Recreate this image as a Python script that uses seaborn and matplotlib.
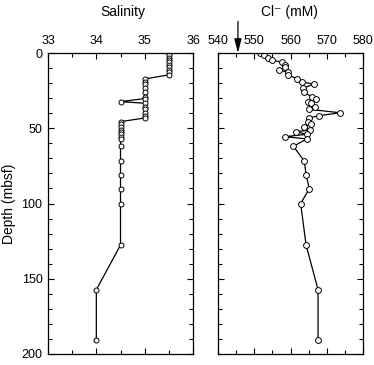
import matplotlib
matplotlib.use("Agg")
import matplotlib.pyplot as plt
from matplotlib.ticker import MultipleLocator
import seaborn as sns
import pandas as pd

depth = [0, 1.5, 3, 4.6, 6.2, 7.7, 9, 11.3, 12.8, 14.5,
         17.3, 19.3, 20.6, 23.5, 26, 29, 30.3, 32.3, 33.4, 35.6,
         37.4, 39.7, 41.7, 43.2, 45.6, 47.4, 49.4, 51.2, 52.3, 54,
         55.6, 57.1, 62, 71.8, 81, 90.2, 100, 127.6, 157.3, 190.7]
salinity = [35.5] * 10 + [35.0] * 7 + [34.5] + [35.0] * 6 + [34.5] * 8 + \
           [34.5] * 6 + [34.0] * 2
chloride = [551.7, 552.7, 553.7, 554.8, 557.7, 558.5, 558.6, 556.9, 559.2, 559.4,
            561.9, 563.3, 566.4, 563.5, 563.6, 565.9, 567.0, 564.8, 565.6, 566.7,
            565.1, 573.7, 567.8, 565.1, 564.7, 565.6, 563.8, 565.4, 561.5, 564.5,
            558.5, 564.5, 560.8, 563.8, 564.3, 565.2, 562.8, 564.3, 567.6, 567.6]
seawater_cl = 545.5

df = pd.DataFrame({"depth": depth, "salinity": salinity, "cl": chloride})

sns.set_theme(style="white")
plt.rcParams["font.family"] = ["Liberation Sans", "DejaVu Sans"]

W, H = 374, 365
fig = plt.figure(figsize=(W / 100, H / 100), dpi=100)
axL = fig.add_axes([48 / W, 1 - 354 / H, (193 - 48) / W, (354 - 53) / H])
axR = fig.add_axes([218 / W, 1 - 354 / H, (363 - 218) / W, (354 - 53) / H])

kw = dict(estimator=None, sort=False, color="black", linewidth=0.9,
          marker="o", markerfacecolor="white", markeredgecolor="black",
          markeredgewidth=0.7)
sns.lineplot(data=df, x="salinity", y="depth", ax=axL, markersize=3.6, **kw)
sns.lineplot(data=df, x="cl", y="depth", ax=axR, markersize=4.2, **kw)

axL.set_xlim(33, 36)
axR.set_xlim(540, 580)
for ax in (axL, axR):
    ax.set_ylim(200, 0)
    ax.set_xlabel("")
    ax.set_ylabel("")
    for s in ax.spines.values():
        s.set_color("black")
        s.set_linewidth(0.9)
    ax.yaxis.set_major_locator(MultipleLocator(50))
    ax.yaxis.set_minor_locator(MultipleLocator(10))
    ax.tick_params(which="both", direction="in", top=True, bottom=True,
                   left=True, right=True, labeltop=True, labelbottom=False,
                   color="black", width=0.8, labelsize=9, pad=4,
                   labelcolor="black")
    ax.tick_params(which="major", length=4)
    ax.tick_params(which="minor", length=3)

axL.xaxis.set_major_locator(MultipleLocator(1))
axL.xaxis.set_minor_locator(MultipleLocator(0.5))
axR.xaxis.set_major_locator(MultipleLocator(10))
axR.xaxis.set_minor_locator(MultipleLocator(5))
axR.tick_params(labelleft=False)

axL.set_ylabel("Depth (mbsf)", fontsize=10, color="black", labelpad=4)

fig.text(122.5 / W, 1 - 12 / H, "Salinity", ha="center", va="center",
         fontsize=10, color="black")
fig.text(289 / W, 1 - 12 / H, "Cl\u207b (mM)", ha="center", va="center",
         fontsize=10, color="black")

axR.annotate("", xy=(seawater_cl, 0), xytext=(seawater_cl, -21),
             xycoords="data", textcoords="data", annotation_clip=False,
             arrowprops=dict(arrowstyle="-|>,head_length=0.7,head_width=0.18",
                             color="black", lw=0.9, shrinkA=0, shrinkB=0))

fig.savefig("out.png", dpi=100, facecolor="white")
